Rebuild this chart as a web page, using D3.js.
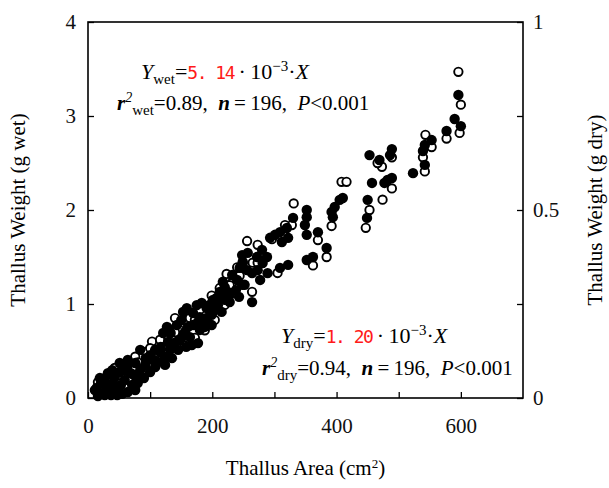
<!DOCTYPE html>
<html>
    <head>
        <script src="https://d3js.org/d3.v7.min.js"></script>
        <style>
            body { margin: 0; background: #fff; }
            text { font-family: "Liberation Serif", "DejaVu Serif", serif; }
        </style>
    </head>
    <body>
        <div id="chart"></div>
        <script>
            // open circles: wet weight (left axis), filled circles: dry weight (right axis)
            wetArea = [596, 600, 598, 577, 543, 553, 539, 542, 489, 473, 489, 474, 466, 453, 447,
                       408, 416, 392, 331, 328, 296, 317, 370, 384, 362, 305, 256, 273, 240, 265,
                       273, 223, 264, 140, 156, 129, 172, 35,
                       19, 27, 48, 59, 76, 92, 103, 116, 135, 148, 164, 180, 199, 212, 232, 244, 249,
                       32, 68, 87, 108, 129, 156, 188, 204, 220, 236,
                       16, 43, 80, 100, 140, 172, 196, 228]
            wetWeight = [3.47, 3.12, 2.82, 2.76, 2.80, 2.67, 2.56, 2.41, 2.56, 2.46, 2.23, 2.11, 2.50, 2.00, 1.81,
                         2.30, 2.30, 1.83, 2.07, 1.84, 1.69, 1.84, 1.68, 1.50, 1.41, 1.33, 1.67, 1.63, 1.39, 1.44,
                         1.44, 1.32, 1.13, 0.85, 0.82, 0.74, 0.64, 0.19,
                         0.11, 0.21, 0.24, 0.35, 0.44, 0.49, 0.60, 0.62, 0.67, 0.72, 0.85, 0.94, 1.09, 1.17, 1.23, 1.30, 1.45,
                         0.11, 0.21, 0.28, 0.40, 0.49, 0.56, 0.72, 0.83, 0.99, 1.12,
                         0.17, 0.32, 0.38, 0.53, 0.70, 0.83, 0.99, 1.20]

            dryArea = [596, 600, 590, 577, 553, 542, 539, 542, 523, 489, 469, 489, 477, 453, 486,
                       457, 482, 450, 449, 410, 405, 397, 392, 394, 352, 352, 349, 352, 330, 320,
                       309, 301, 293, 322, 312, 370, 384, 352, 362, 288, 281, 280, 309, 322, 289,
                       248, 257, 272, 249, 256, 264, 273, 277, 240, 217, 220, 212, 207, 201, 196,
                       191, 183, 243, 264, 175, 159, 153, 169, 180, 185, 143, 127, 161, 150, 177,
                       188, 121, 133, 156, 177, 158, 84, 108, 117, 124, 96, 76, 108, 51, 32,
                       43, 61, 69, 85, 80, 21, 29, 43, 53, 19, 37, 64,
                       14, 26, 39, 48, 59, 71, 84, 92, 100, 113, 124, 132, 140, 148, 164,
                       169, 100, 64, 39, 16, 204, 220, 228, 199, 225, 252, 27, 55, 76,
                       19, 31, 42, 51, 63, 74, 90, 93, 105, 116, 129, 135, 145, 153, 167,
                       180, 191, 199, 209, 215, 228, 238, 248, 222, 232, 244, 11, 24, 47]
            dryWeight = [0.806, 0.723, 0.742, 0.710, 0.686, 0.673, 0.657, 0.620, 0.598, 0.662, 0.633, 0.585, 0.572, 0.646, 0.646,
                         0.572, 0.580, 0.527, 0.479, 0.532, 0.527, 0.508, 0.495, 0.481, 0.500, 0.481, 0.460, 0.434, 0.479, 0.452,
                         0.441, 0.434, 0.426, 0.426, 0.415, 0.441, 0.399, 0.367, 0.375, 0.375, 0.359, 0.394, 0.346, 0.354, 0.332,
                         0.380, 0.386, 0.375, 0.359, 0.340, 0.332, 0.340, 0.314, 0.314, 0.309, 0.295, 0.282, 0.266, 0.261, 0.247,
                         0.239, 0.253, 0.269, 0.255, 0.247, 0.239, 0.229, 0.226, 0.215, 0.199, 0.194, 0.189, 0.189, 0.207, 0.202,
                         0.189, 0.173, 0.173, 0.176, 0.146, 0.136, 0.128, 0.128, 0.136, 0.109, 0.101, 0.093, 0.082, 0.093, 0.066,
                         0.056, 0.074, 0.066, 0.056, 0.040, 0.040, 0.021, 0.027, 0.035, 0.013, 0.008, 0.016,
                         0.027, 0.048, 0.037, 0.016, 0.048, 0.035, 0.074, 0.088, 0.069, 0.096, 0.088, 0.128, 0.146, 0.154, 0.162,
                         0.194, 0.114, 0.101, 0.074, 0.005, 0.234, 0.261, 0.274, 0.221, 0.282, 0.301, 0.008, 0.011, 0.021,
                         0.053, 0.035, 0.053, 0.069, 0.082, 0.061, 0.053, 0.106, 0.101, 0.122, 0.149, 0.106, 0.128, 0.165, 0.141,
                         0.181, 0.213, 0.194, 0.247, 0.229, 0.255, 0.287, 0.301, 0.274, 0.327, 0.346, 0.021, 0.013, 0.008]

            xTicks = [0, 100, 200, 300, 400, 500, 600]
            xLabels = [0, 200, 400, 600]
            wetTicks = [0, 1, 2, 3, 4]
            dryTicks = [0, 0.25, 0.5, 0.75, 1]
            dryLabels = {0: "0", 0.5: "0.5", 1: "1"}

            width = 609
            height = 488
            margin = ({top: 22, right: 86, bottom: 90, left: 88})

            x = d3.scaleLinear([0, 700], [margin.left, width - margin.right])
            yWet = d3.scaleLinear([0, 4], [height - margin.bottom, margin.top])
            yDry = d3.scaleLinear([0, 1], [height - margin.bottom, margin.top])

            const svg = d3.select("#chart")
                .append("svg")
                .attr("width", width)
                .attr("height", height)
                .attr("viewBox", [0, 0, width, height])

            const fontSize = 21

            svg.append("g")
                .attr("transform", `translate(0,${height - margin.bottom})`)
                .call(d3.axisBottom(x).tickValues(xTicks).tickSize(-6).tickPadding(20)
                    .tickFormat(d => xLabels.includes(d) ? d : ""))
                .call(g => g.select(".domain").remove())

            svg.append("g")
                .attr("transform", `translate(${margin.left},0)`)
                .call(d3.axisLeft(yWet).tickValues(wetTicks).tickSize(-6).tickPadding(12)
                    .tickFormat(d3.format("d")))
                .call(g => g.select(".domain").remove())

            svg.append("g")
                .attr("transform", `translate(${width - margin.right},0)`)
                .call(d3.axisRight(yDry).tickValues(dryTicks).tickSize(-6).tickPadding(10)
                    .tickFormat(d => dryLabels[d] || ""))
                .call(g => g.select(".domain").remove())

            svg.selectAll(".tick line").attr("stroke", "#000").attr("stroke-width", 1.3)
            svg.selectAll(".tick text")
                .attr("font-family", '"Liberation Serif", serif')
                .attr("font-size", fontSize)
                .attr("fill", "#111")

            // frame
            svg.append("rect")
                .attr("x", margin.left)
                .attr("y", margin.top)
                .attr("width", width - margin.left - margin.right)
                .attr("height", height - margin.top - margin.bottom)
                .attr("fill", "none")
                .attr("stroke", "#000")
                .attr("stroke-width", 1.6)

            const r = 4.8

            svg.append("g")
                .selectAll("circle")
                .data(wetArea)
                .join("circle")
                .attr("cx", d => x(d))
                .attr("cy", (d, i) => yWet(wetWeight[i]))
                .attr("r", r - 0.6)
                .attr("fill", "#fff")
                .attr("stroke", "#000")
                .attr("stroke-width", 1.9)

            svg.append("g")
                .selectAll("circle")
                .data(dryArea)
                .join("circle")
                .attr("cx", d => x(d))
                .attr("cy", (d, i) => yDry(dryWeight[i]))
                .attr("r", r + 0.4)
                .attr("fill", "#000")

            // axis titles
            svg.append("text")
                .attr("x", (margin.left + width - margin.right) / 2)
                .attr("y", 475)
                .attr("text-anchor", "middle")
                .attr("font-size", 21)
                .call(t => {
                    t.append("tspan").text("Thallus Area (cm")
                    t.append("tspan").attr("font-size", 13).attr("dy", -7).text("2")
                    t.append("tspan").attr("dy", 7).text(")")
                })

            svg.append("text")
                .attr("transform", `translate(25,${(margin.top + height - margin.bottom) / 2}) rotate(-90)`)
                .attr("text-anchor", "middle")
                .attr("font-size", 21)
                .text("Thallus Weight (g wet)")

            svg.append("text")
                .attr("transform", `translate(602,${(margin.top + height - margin.bottom) / 2}) rotate(-90)`)
                .attr("text-anchor", "middle")
                .attr("font-size", 21)
                .text("Thallus Weight (g dry)")

            // regression annotations
            function equation(xPos, yPos, sub, coef) {
                const t = svg.append("text").attr("x", xPos).attr("y", yPos).attr("font-size", 22)
                t.append("tspan").attr("font-style", "italic").text("Y")
                t.append("tspan").attr("font-size", 15).attr("dy", 5).text(sub)
                t.append("tspan").attr("dy", -5).text("=")
                t.append("tspan").attr("fill", "#ff1a1a").attr("font-size", 18)
                    .attr("letter-spacing", -1.5)
                    .attr("font-family", '"DejaVu Sans Mono", monospace').text(coef)
                t.append("tspan").text("\u2009\u00b7\u200910")
                t.append("tspan").attr("font-size", 15).attr("dy", -8).text("\u22123")
                t.append("tspan").attr("dy", 8).text("\u00b7")
                t.append("tspan").attr("font-style", "italic").text("X")
            }

            function stats(xPos, yPos, sub, r2) {
                const t = svg.append("text").attr("x", xPos).attr("y", yPos).attr("font-size", 21)
                t.append("tspan").attr("font-style", "italic").attr("font-weight", "bold").text("r")
                t.append("tspan").attr("font-size", 14).attr("dy", -8).attr("font-style", "italic").text("2")
                t.append("tspan").attr("font-size", 15).attr("dy", 13).text(sub)
                t.append("tspan").attr("dy", -5).text("=" + r2 + ",\u2002")
                t.append("tspan").attr("font-style", "italic").attr("font-weight", "bold").text("n")
                t.append("tspan").text("\u2009=\u2009196,\u2002")
                t.append("tspan").attr("font-style", "italic").text("P")
                t.append("tspan").text("<0.001")
            }

            equation(141, 79, "wet", "5. 14")
            stats(117, 110, "wet", "0.89")
            equation(281, 343, "dry", "1. 20")
            stats(262, 375, "dry", "0.94")
        </script>
    </body>
</html>
